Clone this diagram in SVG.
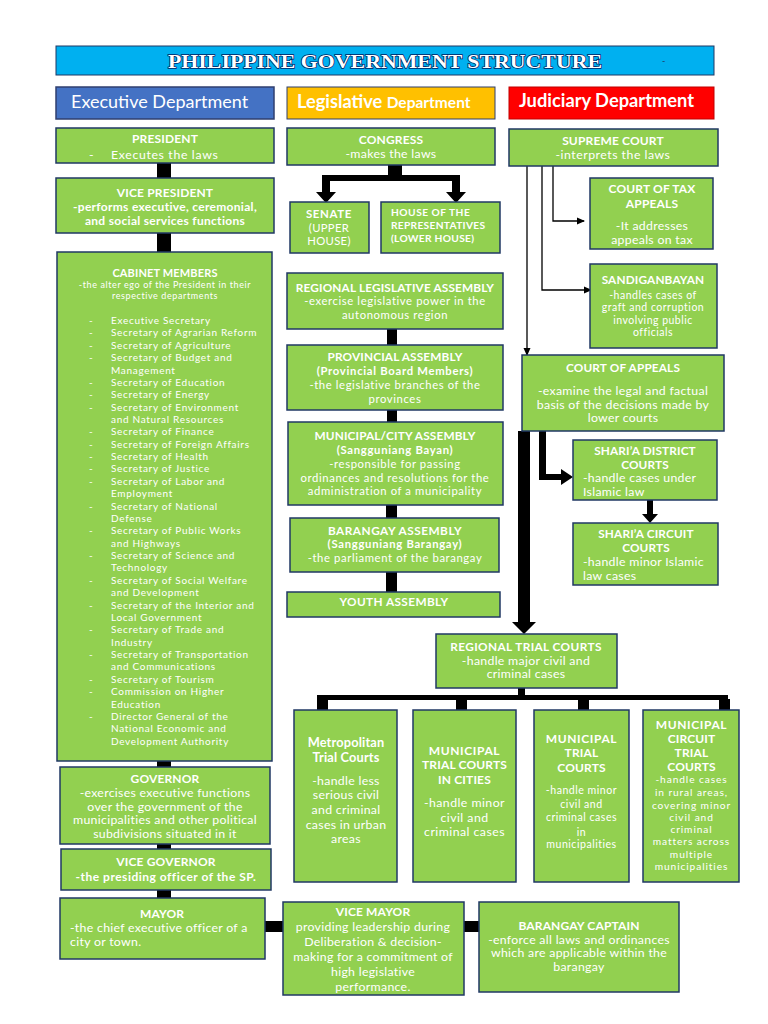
<svg xmlns="http://www.w3.org/2000/svg" width="768" height="1024" viewBox="0 0 768 1024">
<style>
.box{fill:#92D050;stroke:#203864;stroke-width:1.5}
.t{font-family:Lato,"Open Sans",sans-serif;fill:#fff;text-anchor:middle;font-size:12.3px;letter-spacing:0.3px}
.b{font-weight:bold;font-size:12px;letter-spacing:0.15px}
.l{text-anchor:start}
.cl{font-size:10px;letter-spacing:0.7px}
.ld{font-size:11.3px;letter-spacing:0.6px}
.lp{font-weight:bold;font-size:11.3px;letter-spacing:0.7px}
.s117{font-size:11.8px}
.s12{font-size:12px}
.s13{font-size:12.8px}
.thin{fill:none;stroke:#000;stroke-width:1.3}
.blk{fill:#000}
</style>
<defs>
<marker id="ah" markerWidth="8" markerHeight="8" refX="7" refY="4" orient="auto" markerUnits="userSpaceOnUse">
<path d="M0,0.5 L8,4 L0,7.5 Z" fill="#000"/>
</marker>
</defs>
<rect width="768" height="1024" fill="#fff"/>

<g id="title">
<rect x="56" y="46" width="658" height="29" fill="#00B0F0" stroke="#1F3864" stroke-width="1"/>
<text x="385" y="68" text-anchor="middle" textLength="434" lengthAdjust="spacingAndGlyphs" style="font-family:'Liberation Serif',serif;font-weight:bold;font-size:19px;fill:#fff;stroke:#002060;stroke-width:1.4;paint-order:stroke">PHILIPPINE GOVERNMENT STRUCTURE</text>
<text x="662" y="64" style="font-family:Lato,sans-serif;font-size:9px;fill:#1F3864">-</text>
</g>

<g id="hdr-exec">
<rect x="56" y="87" width="218" height="32" fill="#4472C4" stroke="#2F3F6F" stroke-width="1.5"/>
<text x="71" y="108" class="t l" style="font-size:18px;letter-spacing:0">Executive Department</text>
</g>
<g id="hdr-leg">
<rect x="287" y="87" width="208" height="32" fill="#FFC000" stroke="#2F3F6F" stroke-width="1"/>
<text x="297" y="108" class="t l" style="font-size:18.2px;font-weight:bold;letter-spacing:0">Legislative <tspan style="font-size:15.5px">Department</tspan></text>
</g>
<g id="hdr-jud">
<rect x="509" y="87" width="205" height="32" fill="#FF0000" stroke="#C00000" stroke-width="1"/>
<text x="519" y="107" class="t l" style="font-size:18.3px;font-weight:bold;letter-spacing:0">Judiciary Department</text>
</g>

<g id="connectors">
<rect class="blk" x="157" y="163" width="14" height="15"/>
<rect class="blk" x="157" y="233" width="14" height="19"/>
<rect class="blk" x="157" y="761" width="14" height="6"/>
<rect class="blk" x="157" y="844" width="14" height="5"/>
<rect class="blk" x="157" y="890" width="14" height="8"/>
<rect class="blk" x="265" y="921" width="18" height="11"/>
<rect class="blk" x="464" y="921" width="15" height="11"/>
<path class="blk" d="M388,165 H402 V175 H460 V192 H466 L456,203 L446,192 H452 V181 H330 V192 H336 L326,203 L316,192 H322 V175 H388 Z"/>
<rect class="blk" x="387" y="329" width="10" height="16"/>
<rect class="blk" x="387" y="410" width="10" height="12"/>
<rect class="blk" x="386" y="505" width="11" height="13"/>
<rect class="blk" x="386" y="572" width="11" height="20"/>
<path class="thin" d="M553,166 V221 H584" marker-end="url(#ah)"/>
<path class="thin" d="M542,166 V290 H591" marker-end="url(#ah)"/>
<path class="thin" d="M527,166 V355" marker-end="url(#ah)"/>
<path class="blk" d="M539,431 H546 V474 H561 V469 L573,477 L561,485 V480 H539 Z"/>
<path class="blk" d="M647,500 H653 V514 H658 L650,523 L642,514 H647 Z"/>
<path class="blk" d="M518,431 H530 V622 H536 L524,634 L512,622 H518 Z"/>
<rect class="blk" x="518" y="688" width="7" height="8"/>
<rect class="blk" x="317" y="695" width="411" height="5"/>
<rect class="blk" x="317" y="699" width="11" height="11"/>
<rect class="blk" x="456" y="699" width="11" height="11"/>
<rect class="blk" x="578" y="699" width="11" height="11"/>
<rect class="blk" x="719" y="699" width="11" height="11"/>
</g>

<g id="president">
<rect class="box" x="56" y="128" width="218" height="35"/>
<text class="t b" x="165" y="143">PRESIDENT</text>
<text class="t l" x="89" y="159">-</text>
<text class="t l" x="111" y="159" style="letter-spacing:0.65px">Executes the laws</text>
</g>
<g id="vice-president">
<rect class="box" x="56" y="178" width="218" height="55"/>
<text class="t b" x="165" y="197">VICE PRESIDENT</text>
<text class="t b" x="165" y="211" style="letter-spacing:0.3px">-performs executive, ceremonial,</text>
<text class="t b" x="165" y="225" style="letter-spacing:0.3px">and social services functions</text>
</g>
<g id="cabinet">
<rect class="box" x="57" y="252" width="215" height="509"/>
<text class="t b" style="font-size:11px" x="165" y="277">CABINET MEMBERS</text>
<text class="t" style="font-size:9px;letter-spacing:0.6px" x="165" y="288">-the alter ego of the President in their</text>
<text class="t" style="font-size:9px;letter-spacing:0.6px" x="165" y="299">respective departments</text>
<g class="t l cl">
<text x="89" y="324">-</text><text x="111" y="324">Executive Secretary</text>
<text x="89" y="336.4">-</text><text x="111" y="336.4">Secretary of Agrarian Reform</text>
<text x="89" y="348.7">-</text><text x="111" y="348.7">Secretary of Agriculture</text>
<text x="89" y="361.1">-</text><text x="111" y="361.1">Secretary of Budget and</text>
<text x="111" y="373.5">Management</text>
<text x="89" y="385.8">-</text><text x="111" y="385.8">Secretary of Education</text>
<text x="89" y="398.2">-</text><text x="111" y="398.2">Secretary of Energy</text>
<text x="89" y="410.6">-</text><text x="111" y="410.6">Secretary of Environment</text>
<text x="111" y="423">and Natural Resources</text>
<text x="89" y="435.3">-</text><text x="111" y="435.3">Secretary of Finance</text>
<text x="89" y="447.7">-</text><text x="111" y="447.7">Secretary of Foreign Affairs</text>
<text x="89" y="460.1">-</text><text x="111" y="460.1">Secretary of Health</text>
<text x="89" y="472.4">-</text><text x="111" y="472.4">Secretary of Justice</text>
<text x="89" y="484.8">-</text><text x="111" y="484.8">Secretary of Labor and</text>
<text x="111" y="497.2">Employment</text>
<text x="89" y="509.5">-</text><text x="111" y="509.5">Secretary of National</text>
<text x="111" y="521.9">Defense</text>
<text x="89" y="534.3">-</text><text x="111" y="534.3">Secretary of Public Works</text>
<text x="111" y="546.7">and Highways</text>
<text x="89" y="559">-</text><text x="111" y="559">Secretary of Science and</text>
<text x="111" y="571.4">Technology</text>
<text x="89" y="583.8">-</text><text x="111" y="583.8">Secretary of Social Welfare</text>
<text x="111" y="596.1">and Development</text>
<text x="89" y="608.5">-</text><text x="111" y="608.5">Secretary of the Interior and</text>
<text x="111" y="620.9">Local Government</text>
<text x="89" y="633.2">-</text><text x="111" y="633.2">Secretary of Trade and</text>
<text x="111" y="645.6">Industry</text>
<text x="89" y="658">-</text><text x="111" y="658">Secretary of Transportation</text>
<text x="111" y="670.4">and Communications</text>
<text x="89" y="682.7">-</text><text x="111" y="682.7">Secretary of Tourism</text>
<text x="89" y="695.1">-</text><text x="111" y="695.1">Commission on Higher</text>
<text x="111" y="707.5">Education</text>
<text x="89" y="719.8">-</text><text x="111" y="719.8">Director General of the</text>
<text x="111" y="732.2">National Economic and</text>
<text x="111" y="744.6">Development Authority</text>
</g>
</g>
<g id="governor">
<rect class="box" x="60" y="767" width="210" height="77"/>
<text class="t b" x="165" y="783">GOVERNOR</text>
<text class="t" x="165" y="797">-exercises executive functions</text>
<text class="t" x="165" y="811">over the government of the</text>
<text class="t" x="165" y="824">municipalities and other political</text>
<text class="t" x="165" y="838">subdivisions situated in it</text>
</g>
<g id="vice-governor">
<rect class="box" x="61" y="849" width="210" height="41"/>
<text class="t b" x="166" y="866">VICE GOVERNOR</text>
<text class="t b" x="166" y="881" style="letter-spacing:0.5px">-the presiding officer of the SP.</text>
</g>
<g id="mayor">
<rect class="box" x="60" y="898" width="205" height="61"/>
<text class="t b" x="162" y="918">MAYOR</text>
<text class="t l" x="70" y="932">-the chief executive officer of a</text>
<text class="t l" x="70" y="946">city or town.</text>
</g>
<g id="vice-mayor">
<rect class="box" x="283" y="902" width="181" height="93"/>
<text class="t b" x="373" y="916">VICE MAYOR</text>
<text class="t" x="373" y="931">providing leadership during</text>
<text class="t" x="373" y="946">Deliberation &amp; decision-</text>
<text class="t" x="373" y="961">making for a commitment of</text>
<text class="t" x="373" y="976">high legislative</text>
<text class="t" x="373" y="991">performance.</text>
</g>
<g id="barangay-captain">
<rect class="box" x="479" y="902" width="200" height="90"/>
<text class="t b" x="579" y="930">BARANGAY CAPTAIN</text>
<text class="t" x="579" y="944">-enforce all laws and ordinances</text>
<text class="t" x="579" y="957">which are applicable within the</text>
<text class="t" x="579" y="971">barangay</text>
</g>

<g id="congress">
<rect class="box" x="287" y="128" width="208" height="37"/>
<text class="t b" x="391" y="143.5">CONGRESS</text>
<text class="t" x="391" y="157.5">-makes the laws</text>
</g>
<g id="senate">
<rect class="box" x="290" y="202" width="79" height="51"/>
<text class="t b" style="font-size:11.5px;letter-spacing:0.6px" x="329" y="217.5">SENATE</text>
<text class="t" style="font-size:11.3px" x="329" y="231.5">(UPPER</text>
<text class="t" style="font-size:11.3px" x="329" y="245">HOUSE)</text>
</g>
<g id="house">
<rect class="box" x="381" y="202" width="119" height="51"/>
<text class="t l b" style="font-size:10.2px;letter-spacing:0.5px" x="391" y="216">HOUSE OF THE</text>
<text class="t l b" style="font-size:10.2px;letter-spacing:0.3px" x="391" y="229">REPRESENTATIVES</text>
<text class="t l b" style="font-size:10.2px;letter-spacing:0.3px" x="391" y="241.5">(LOWER HOUSE)</text>
</g>
<g id="regional-assembly">
<rect class="box" x="287" y="273" width="216" height="56"/>
<text class="t b s117" x="395" y="291.5">REGIONAL LEGISLATIVE ASSEMBLY</text>
<text class="t ld" x="395" y="305">-exercise legislative power in the</text>
<text class="t ld" x="395" y="319">autonomous region</text>
</g>
<g id="provincial-assembly">
<rect class="box" x="287" y="345" width="216" height="65"/>
<text class="t b s117" x="395" y="361">PROVINCIAL ASSEMBLY</text>
<text class="t lp" x="395" y="375">(Provincial Board Members)</text>
<text class="t ld" x="395" y="388.5">-the legislative branches of the</text>
<text class="t ld" x="395" y="402.5">provinces</text>
</g>
<g id="municipal-assembly">
<rect class="box" x="288" y="422" width="215" height="83"/>
<text class="t b s117" x="395" y="440">MUNICIPAL/CITY ASSEMBLY</text>
<text class="t lp" x="395" y="453.5">(Sangguniang Bayan)</text>
<text class="t ld" x="395" y="467.5">-responsible for passing</text>
<text class="t ld" x="395" y="481.5">ordinances and resolutions for the</text>
<text class="t ld" x="395" y="495">administration of a municipality</text>
</g>
<g id="barangay-assembly">
<rect class="box" x="290" y="518" width="209" height="54"/>
<text class="t b s117" x="395" y="535" style="letter-spacing:0.5px">BARANGAY ASSEMBLY</text>
<text class="t lp" x="395" y="548">(Sangguniang Barangay)</text>
<text class="t ld" x="395" y="562">-the parliament of the barangay</text>
</g>
<g id="youth-assembly">
<rect class="box" x="287" y="592" width="213" height="25"/>
<text class="t b s117" x="394" y="606" style="letter-spacing:0.4px">YOUTH ASSEMBLY</text>
</g>

<g id="supreme-court">
<rect class="box" x="509" y="129" width="209" height="37"/>
<text class="t b" x="613" y="145">SUPREME COURT</text>
<text class="t" x="613" y="159" style="letter-spacing:0.5px">-interprets the laws</text>
</g>
<g id="court-tax-appeals">
<rect class="box" x="590" y="178" width="123" height="71"/>
<text class="t b s12" x="652" y="192.5">COURT OF TAX</text>
<text class="t b s12" x="652" y="208">APPEALS</text>
<text class="t" x="652" y="230">-It addresses</text>
<text class="t" x="652" y="244">appeals on tax</text>
</g>
<g id="sandiganbayan">
<rect class="box" x="590" y="264" width="127" height="84"/>
<text class="t b s117" x="653" y="284">SANDIGANBAYAN</text>
<g class="t" style="font-size:10.5px;letter-spacing:0.5px">
<text x="653" y="299">-handles cases of</text>
<text x="653" y="311">graft and corruption</text>
<text x="653" y="324">involving public</text>
<text x="653" y="336">officials</text>
</g>
</g>
<g id="court-of-appeals">
<rect class="box" x="522" y="355" width="202" height="76"/>
<text class="t b s117" x="623" y="372">COURT OF APPEALS</text>
<text class="t" x="623" y="395">-examine the legal and factual</text>
<text class="t" x="623" y="408.5">basis of the decisions made by</text>
<text class="t" x="623" y="422">lower courts</text>
</g>
<g id="sharia-district">
<rect class="box" x="573" y="440" width="144" height="60"/>
<text class="t b s117" x="645" y="455">SHARI’A DISTRICT</text>
<text class="t b s117" x="645" y="468.5">COURTS</text>
<text class="t l" x="583" y="482">-handle cases under</text>
<text class="t l" x="583" y="496">Islamic law</text>
</g>
<g id="sharia-circuit">
<rect class="box" x="573" y="523" width="145" height="62"/>
<text class="t b s117" x="646" y="538">SHARI’A CIRCUIT</text>
<text class="t b s117" x="646" y="552">COURTS</text>
<text class="t l" x="583" y="566">-handle minor Islamic</text>
<text class="t l" x="583" y="580">law cases</text>
</g>
<g id="regional-trial-courts">
<rect class="box" x="436" y="634" width="181" height="54"/>
<text class="t b s117" x="526" y="651" style="letter-spacing:0.4px">REGIONAL TRIAL COURTS</text>
<text class="t" x="526" y="664.5">-handle major civil and</text>
<text class="t" x="526" y="678">criminal cases</text>
</g>
<g id="metropolitan-trial-courts">
<rect class="box" x="294" y="710" width="103" height="172"/>
<text class="t b s13" x="346" y="746.5">Metropolitan</text>
<text class="t b s13" x="346" y="762">Trial Courts</text>
<text class="t" x="346" y="784.5">-handle less</text>
<text class="t" x="346" y="799">serious civil</text>
<text class="t" x="346" y="813.5">and criminal</text>
<text class="t" x="346" y="828.5">cases in urban</text>
<text class="t" x="346" y="843">areas</text>
</g>
<g id="mtc-cities">
<rect class="box" x="413" y="710" width="103" height="172"/>
<text class="t b s12" x="464.5" y="755" style="letter-spacing:0.6px">MUNICIPAL</text>
<text class="t b s12" x="464.5" y="769">TRIAL COURTS</text>
<text class="t b s12" x="464.5" y="783.5">IN CITIES</text>
<text class="t" style="letter-spacing:0.45px" x="464.5" y="807">-handle minor</text>
<text class="t" style="letter-spacing:0.45px" x="464.5" y="821.5">civil and</text>
<text class="t" style="letter-spacing:0.45px" x="464.5" y="836">criminal cases</text>
</g>
<g id="municipal-trial-courts">
<rect class="box" x="534" y="710" width="95" height="172"/>
<text class="t b s12" x="581.5" y="742.5" style="letter-spacing:0.6px">MUNICIPAL</text>
<text class="t b s12" x="581.5" y="757">TRIAL</text>
<text class="t b s12" x="581.5" y="771.5">COURTS</text>
<g class="t" style="font-size:10.6px;letter-spacing:0.5px">
<text x="581.5" y="794">-handle minor</text>
<text x="581.5" y="808">civil and</text>
<text x="581.5" y="821">criminal cases</text>
<text x="581.5" y="835.5">in</text>
<text x="581.5" y="848">municipalities</text>
</g>
</g>
<g id="municipal-circuit-trial-courts">
<rect class="box" x="643" y="710" width="96" height="172"/>
<text class="t b s12" x="691.5" y="729" style="letter-spacing:0.6px">MUNICIPAL</text>
<text class="t b s12" x="691.5" y="743">CIRCUIT</text>
<text class="t b s12" x="691.5" y="757">TRIAL</text>
<text class="t b s12" x="691.5" y="771">COURTS</text>
<g class="t" style="font-size:10.2px;letter-spacing:0.9px">
<text x="691.5" y="783">-handle cases</text>
<text x="691.5" y="796">in rural areas,</text>
<text x="691.5" y="808.5">covering minor</text>
<text x="691.5" y="820.5">civil and</text>
<text x="691.5" y="832.5">criminal</text>
<text x="691.5" y="845">matters across</text>
<text x="691.5" y="857.5">multiple</text>
<text x="691.5" y="869.5">municipalities</text>
</g>
</g>
</svg>
